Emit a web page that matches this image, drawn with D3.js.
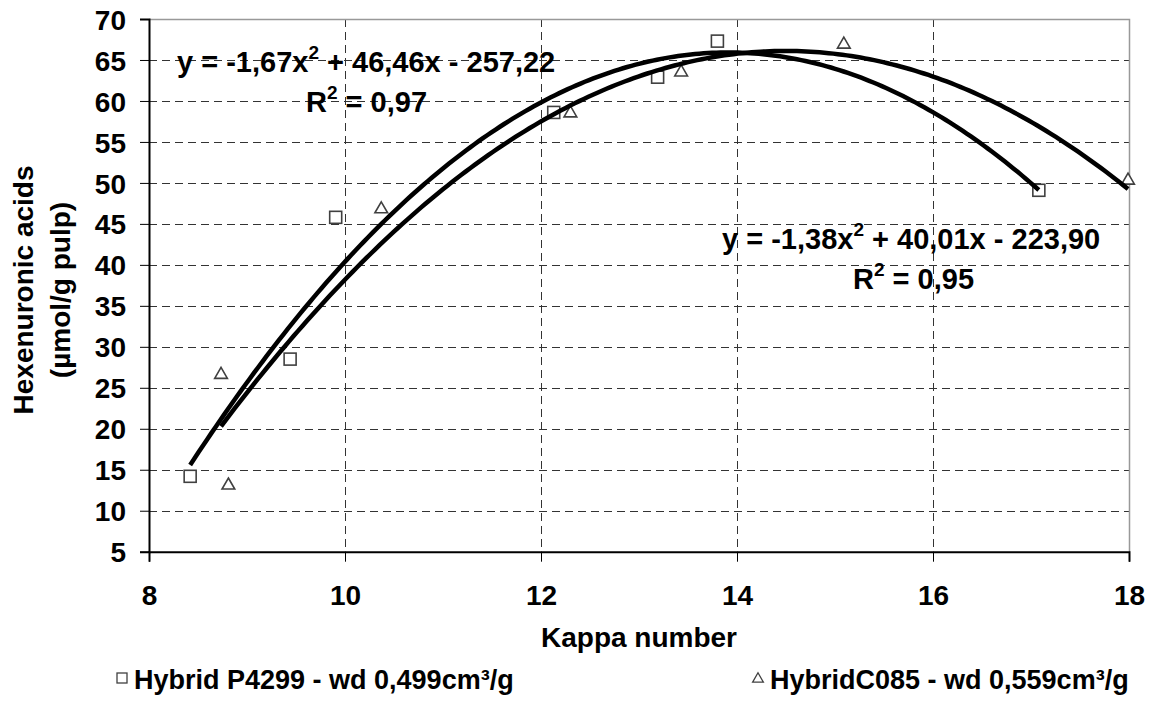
<!DOCTYPE html>
<html>
<head>
<meta charset="utf-8">
<script src="https://cdn.jsdelivr.net/npm/d3@7/dist/d3.min.js"></script>
<style>
  html, body { margin: 0; padding: 0; background: #fff; }
  svg text { font-family: Arial, "Liberation Sans", sans-serif; font-weight: bold; fill: #000; }
</style>
</head>
<body>
<svg id="chart" width="1156" height="702"></svg>
<script>
// Hybrid P4299 (square markers)
const p4299Kappa = [8.42, 9.44, 9.905, 12.13, 13.19, 13.80, 17.08];
const p4299Hexa  = [14.2, 28.5, 45.8, 58.6, 62.9, 67.3, 49.1];
// Hybrid C085 (triangle markers)
const c085Kappa = [8.735, 8.81, 10.37, 12.30, 13.43, 15.09, 17.99];
const c085Hexa  = [26.6, 13.1, 46.8, 58.5, 63.5, 66.9, 50.3];

// Polynomial trendline coefficients [a, b, c] for y = a x^2 + b x + c
const p4299Fit = [-1.67, 46.46, -257.22];
const c085Fit  = [-1.38, 40.01, -223.90];

const xTicks = [8, 10, 12, 14, 16, 18];
const yTicks = [5, 10, 15, 20, 25, 30, 35, 40, 45, 50, 55, 60, 65, 70];

const svg = d3.select("#chart");
const plotL = 149, plotR = 1129, plotT = 19, plotB = 551.7;

const x = d3.scaleLinear().domain([8, 18]).range([plotL, plotR]);
const y = d3.scaleLinear().domain([5, 70]).range([plotB, plotT]);

// grid lines
const grid = svg.append("g").attr("stroke", "#333").attr("stroke-width", 1)
  .attr("stroke-dasharray", "8,5").attr("fill", "none");
grid.selectAll("line.h").data(yTicks.filter(v => v > 5 && v < 70)).join("line")
  .attr("class", "h")
  .attr("x1", plotL).attr("x2", plotR)
  .attr("y1", d => Math.round(y(d)) + 0.5).attr("y2", d => Math.round(y(d)) + 0.5);
grid.selectAll("line.v").data(xTicks.filter(v => v > 8 && v < 18)).join("line")
  .attr("class", "v")
  .attr("y1", plotT).attr("y2", plotB)
  .attr("x1", d => Math.round(x(d)) + 0.5).attr("x2", d => Math.round(x(d)) + 0.5);

// plot frame (top and right)
svg.append("path")
  .attr("d", `M${plotL},${plotT + 0.5}H${plotR + 0.5}V${plotB}`)
  .attr("fill", "none").attr("stroke", "#999").attr("stroke-width", 1.5);

// axes
const yAxis = svg.append("g").attr("transform", `translate(${plotL},0)`)
  .call(d3.axisLeft(y).tickValues(yTicks).tickSize(9).tickPadding(14).tickFormat(d3.format("d")));
const xAxis = svg.append("g").attr("transform", `translate(0,${plotB})`)
  .call(d3.axisBottom(x).tickValues(xTicks).tickSize(10).tickPadding(23).tickFormat(d3.format("d")));
[yAxis, xAxis].forEach(g => {
  g.select(".domain").attr("stroke", "#000").attr("stroke-width", 2);
  g.selectAll(".tick line").attr("stroke", "#000").attr("stroke-width", 1);
  g.selectAll(".tick text").style("font-size", "28px").style("font-family", "Arial, 'Liberation Sans', sans-serif")
    .style("font-weight", "bold").attr("fill", "#000");
});
yAxis.selectAll(".tick text").attr("dy", "0.36em");

// markers
const markers = svg.append("g").attr("fill", "#fff").attr("stroke", "#404040").attr("stroke-width", 1.6);
markers.selectAll("rect").data(p4299Kappa.map((k, i) => [k, p4299Hexa[i]])).join("rect")
  .attr("x", d => x(d[0]) - 6).attr("y", d => y(d[1]) - 6).attr("width", 12).attr("height", 12);
const tri = d3.symbol().type(d3.symbolTriangle).size(70);
markers.selectAll("path").data(c085Kappa.map((k, i) => [k, c085Hexa[i]])).join("path")
  .attr("d", tri).attr("transform", d => `translate(${x(d[0])},${y(d[1])})`);

// trendlines
function curve(fit, xs) {
  const [a, b, c] = fit;
  const lo = d3.min(xs), hi = d3.max(xs);
  const pts = d3.range(0, 201).map(i => lo + (hi - lo) * i / 200);
  return d3.line().x(v => x(v)).y(v => y(a * v * v + b * v + c))(pts);
}
svg.append("path").attr("d", curve(p4299Fit, p4299Kappa))
  .attr("fill", "none").attr("stroke", "#000").attr("stroke-width", 4.5);
svg.append("path").attr("d", curve(c085Fit, c085Kappa))
  .attr("fill", "none").attr("stroke", "#000").attr("stroke-width", 4.5);

// equation labels
function equation(xPos, yPos, parts) {
  const t = svg.append("text").attr("x", xPos).attr("y", yPos).style("font-size", "29px");
  parts.forEach(p => {
    if (p.sup) {
      t.append("tspan").attr("dy", -13).style("font-size", "19px").text(p.sup);
    } else {
      t.append("tspan").attr("y", yPos).text(p.txt);
    }
  });
}
equation(177, 72, [{txt: "y = -1,67x"}, {sup: "2"}, {txt: " + 46,46x - 257,22"}]);
equation(306, 112, [{txt: "R"}, {sup: "2"}, {txt: " = 0,97"}]);
equation(722, 249, [{txt: "y = -1,38x"}, {sup: "2"}, {txt: " + 40,01x - 223,90"}]);
equation(853, 289, [{txt: "R"}, {sup: "2"}, {txt: " = 0,95"}]);

// axis titles
svg.append("text").attr("x", 639).attr("y", 647).attr("text-anchor", "middle")
  .style("font-size", "28px").text("Kappa number");
const yt = svg.append("text").attr("transform", "translate(33,290) rotate(-90)")
  .attr("text-anchor", "middle").style("font-size", "28px");
yt.append("tspan").attr("x", 0).attr("y", 0).text("Hexenuronic acids");
yt.append("tspan").attr("x", 0).attr("y", 37).text("(µmol/g pulp)");

// legend
const legend = svg.append("g");
legend.append("rect").attr("x", 117).attr("y", 673).attr("width", 10).attr("height", 10)
  .attr("fill", "#fff").attr("stroke", "#404040").attr("stroke-width", 1.3);
legend.append("text").attr("x", 134).attr("y", 689).style("font-size", "27px")
  .text("Hybrid P4299 - wd 0,499cm³/g");
legend.append("path").attr("d", d3.symbol().type(d3.symbolTriangle).size(50))
  .attr("transform", "translate(758,679)")
  .attr("fill", "#fff").attr("stroke", "#404040").attr("stroke-width", 1.3);
legend.append("text").attr("x", 770).attr("y", 689).style("font-size", "27px")
  .text("HybridC085 - wd 0,559cm³/g");
</script>
</body>
</html>
